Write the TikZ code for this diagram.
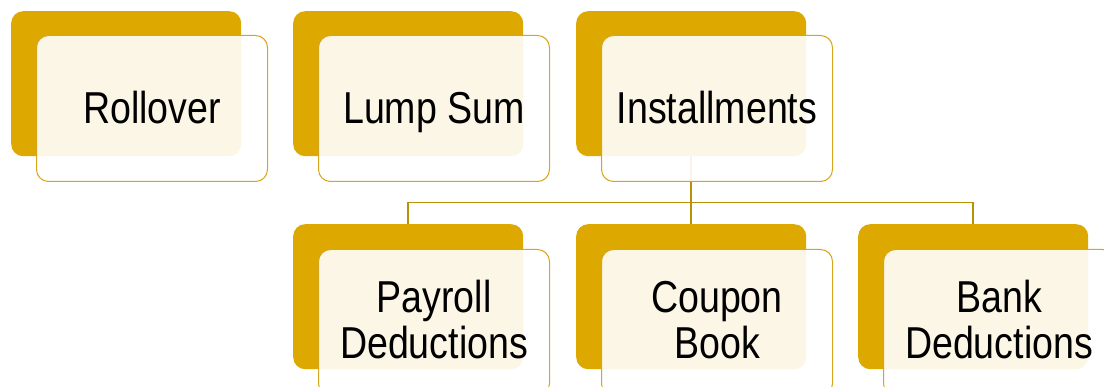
\documentclass[tikz,border=0pt]{standalone}
\usepackage{fontspec}
\setmainfont[FakeStretch=0.84]{Liberation Sans}
\definecolor{gold}{RGB}{221,169,0}
\definecolor{goldline}{RGB}{214,166,30}
\definecolor{conn}{RGB}{186,144,8}
\begin{document}
\begin{tikzpicture}[x=1pt,y=-1pt,
  back/.style={fill=gold, rounded corners=12pt, minimum width=230pt,
    minimum height=145pt, inner sep=0pt, anchor=north west},
  front/.style={draw=goldline, line width=1pt, fill=white, fill opacity=0.9,
    rounded corners=12pt, minimum width=231pt,
    minimum height=146pt, inner sep=0pt, anchor=north west},
  tx/.style={inner sep=0pt, text opacity=1, fill opacity=1, align=center,
    font=\fontsize{44.7}{46}\selectfont},
  one/.style={label={[tx, text depth=0pt, yshift=1pt]center:#1}},
  two/.style={label={[tx, yshift=2.8pt]center:#1}},
  link/.style={draw=conn, line width=1.5pt}]
\useasboundingbox (0,0) rectangle (1104,387);
\clip (0,0) rectangle (1104,387);
% back tiles
\node[back] (rb) at (11,11) {};
\node[back] (lb) at (293,11) {};
\node[back] (ib) at (576,11) {};
\node[back] (pb) at (293,224) {};
\node[back] (cb) at (576,224) {};
\node[back] (bb) at (858,224) {};
% tree connectors
\coordinate (split) at ([yshift=-46pt]ib.south);
\draw[link] (ib.south) -- (split);
\draw[link] (split) -| (pb.north);
\draw[link] (split) -- (cb.north);
\draw[link] (split) -| (bb.north);
% front tiles with labels
\node[front, one={Rollover}] (rf) at (36,35) {};
\node[front, one={Lump Sum}] (lf) at (318,35) {};
\node[front, one={Installments}] (if) at (601,35) {};
\node[front, two={Payroll\\Deductions}] (pf) at (318,249) {};
\node[front, two={Coupon\\Book}] (cf) at (601,249) {};
\node[front, two={Bank\\Deductions}] (bf) at (883,249) {};
\end{tikzpicture}
\end{document}
